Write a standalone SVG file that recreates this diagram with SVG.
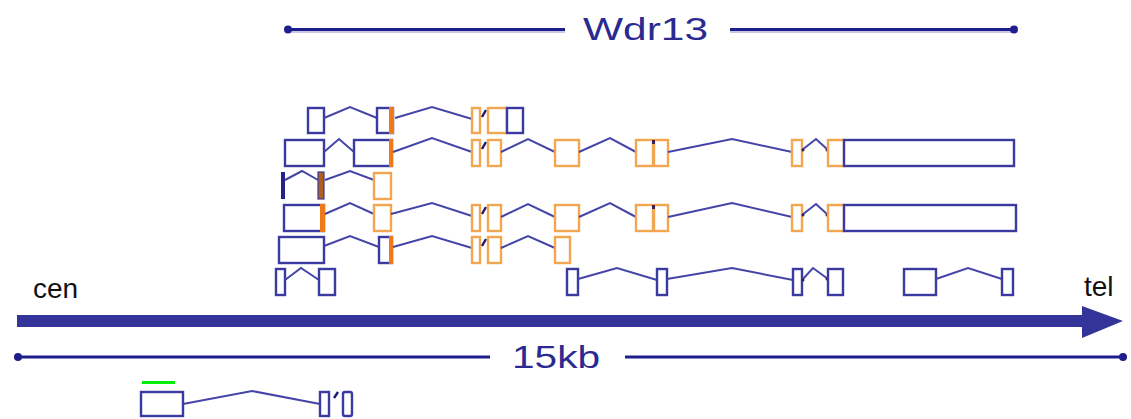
<svg xmlns="http://www.w3.org/2000/svg" width="1131" height="419" viewBox="0 0 1131 419">
<style>
.b{fill:#fff;stroke:#3a3aa0;stroke-width:2.4}
.o{fill:#fff;stroke:#f2a650;stroke-width:2.4}
.os{fill:#f07a1a;stroke:none}
.i{fill:none;stroke:#4545a8;stroke-width:2}
.sl{stroke:#1a1a70;stroke-width:2.4}
.dt{fill:#3a2050}
.lbl{font-family:"Liberation Sans",Arial,sans-serif;fill:#2a2a90}
.side{font-family:"Liberation Sans",Arial,sans-serif;fill:#111;font-size:28px}
.rule{stroke:#1e1e8c;stroke-width:3}
.sh{stroke:#c8c8e4;stroke-width:2}
</style>
<rect width="1131" height="419" fill="#fff"/>

<g id="wdr13-scale">
<line class="sh" x1="287" y1="32" x2="565" y2="32"/>
<line class="sh" x1="730" y1="32" x2="1015" y2="32"/>
<line class="rule" x1="287" y1="29.5" x2="565" y2="29.5"/>
<line class="rule" x1="730" y1="29.5" x2="1015" y2="29.5"/>
<circle cx="288" cy="29.5" r="4" fill="#1e1e8c"/>
<circle cx="1014" cy="29.5" r="4" fill="#1e1e8c"/>
<text class="lbl" x="583" y="40" font-size="32" textLength="125" lengthAdjust="spacingAndGlyphs">Wdr13</text>
</g>

<g id="transcript-1">
<rect class="b" x="308" y="108" width="16" height="25"/>
<polyline class="i" points="324,118 350,107 377,118"/>
<rect class="b" x="377" y="108" width="16" height="25"/>
<rect class="os" x="389" y="107" width="5" height="27"/>
<polyline class="i" points="395,118 432,107 472,119"/>
<rect class="o" x="472" y="108" width="8" height="25"/>
<line class="sl" x1="482" y1="117" x2="486" y2="110"/>
<rect class="o" x="488" y="108" width="19" height="25"/>
<rect class="b" x="507" y="108" width="16" height="25"/>
</g>

<g id="transcript-2">
<rect class="b" x="285" y="140" width="39" height="26"/>
<polyline class="i" points="324,152 339,139 354,152"/>
<rect class="b" x="354" y="140" width="38" height="26"/>
<rect class="os" x="389" y="139" width="4" height="28"/>
<polyline class="i" points="393,152 432,138 472,152"/>
<rect class="o" x="472" y="140" width="8" height="26"/>
<line class="sl" x1="482" y1="149" x2="486" y2="142"/>
<rect class="o" x="488" y="140" width="13" height="26"/>
<polyline class="i" points="501,152 528,139 555,152"/>
<rect class="o" x="555" y="140" width="24" height="26"/>
<polyline class="i" points="579,152 610,138 636,152"/>
<rect class="o" x="636" y="140" width="17" height="26"/>
<rect class="o" x="654" y="140" width="14" height="26"/>
<rect class="dt" x="652" y="140" width="3" height="4"/>
<polyline class="i" points="668,152 732,139 792,152"/>
<rect class="o" x="792" y="140" width="10" height="26"/>
<polyline class="i" points="802,150 816,139 828,150"/>
<circle class="dt" cx="803" cy="150" r="1.5"/>
<circle class="dt" cx="827" cy="150" r="1.5"/>
<rect class="o" x="828" y="140" width="16" height="26"/>
<rect class="b" x="844" y="140" width="170" height="26"/>
</g>

<g id="transcript-3">
<rect x="281" y="172" width="4" height="27" fill="#22228a"/>
<polyline class="i" points="285,180 302,171 318,180"/>
<rect x="318" y="172" width="6" height="27" fill="#b0601e" stroke="#3a3aa0" stroke-width="1.2"/>
<polyline class="i" points="325,180 350,171 374,180"/>
<rect class="o" x="374" y="173" width="17" height="26"/>
</g>

<g id="transcript-4">
<rect class="b" x="284" y="205" width="40" height="26"/>
<rect class="os" x="320" y="204" width="5" height="28"/>
<polyline class="i" points="325,214 350,203 374,214"/>
<rect class="o" x="374" y="205" width="17" height="26"/>
<polyline class="i" points="391,214 432,203 472,216"/>
<rect class="o" x="472" y="205" width="8" height="26"/>
<line class="sl" x1="482" y1="214" x2="486" y2="207"/>
<rect class="o" x="488" y="205" width="13" height="26"/>
<polyline class="i" points="501,217 528,204 555,217"/>
<rect class="o" x="555" y="205" width="24" height="26"/>
<polyline class="i" points="579,217 610,203 636,217"/>
<rect class="o" x="636" y="205" width="17" height="26"/>
<rect class="o" x="654" y="205" width="14" height="26"/>
<rect class="dt" x="652" y="205" width="3" height="4"/>
<polyline class="i" points="668,217 732,203 792,217"/>
<rect class="o" x="792" y="205" width="10" height="26"/>
<polyline class="i" points="802,215 816,204 828,215"/>
<circle class="dt" cx="803" cy="215" r="1.5"/>
<circle class="dt" cx="827" cy="215" r="1.5"/>
<rect class="o" x="828" y="205" width="16" height="26"/>
<rect class="b" x="844" y="205" width="172" height="26"/>
</g>

<g id="transcript-5">
<rect class="b" x="279" y="237" width="45" height="26"/>
<polyline class="i" points="324,246 350,236 379,247"/>
<rect class="b" x="379" y="237" width="13" height="26"/>
<rect class="os" x="389" y="236" width="4" height="28"/>
<polyline class="i" points="393,247 432,236 472,248"/>
<rect class="o" x="472" y="237" width="8" height="26"/>
<line class="sl" x1="482" y1="246" x2="486" y2="239"/>
<rect class="o" x="488" y="237" width="13" height="26"/>
<polyline class="i" points="501,248 528,236 555,248"/>
<rect class="o" x="555" y="237" width="15" height="26"/>
</g>

<g id="transcript-6">
<rect class="b" x="276" y="269" width="9" height="26"/>
<polyline class="i" points="285,280 301,268 319,280"/>
<rect class="b" x="319" y="269" width="16" height="26"/>
<rect class="b" x="567" y="269" width="11" height="26"/>
<polyline class="i" points="578,279 617,268 657,280"/>
<rect class="b" x="657" y="269" width="10" height="26"/>
<polyline class="i" points="667,279 732,268 793,280"/>
<rect class="b" x="793" y="269" width="9" height="26"/>
<polyline class="i" points="802,280 813,268 828,279"/>
<circle class="dt" cx="803" cy="280" r="1.5"/>
<circle class="dt" cx="827" cy="279" r="1.5"/>
<rect class="b" x="828" y="269" width="15" height="26"/>
<rect class="b" x="904" y="269" width="32" height="26"/>
<polyline class="i" points="936,279 968,268 1002,279"/>
<rect class="b" x="1002" y="269" width="11" height="26"/>
</g>

<g id="chromosome-axis">
<text class="side" x="33" y="298">cen</text>
<text class="side" x="1084" y="296" font-size="30">tel</text>
<rect x="17" y="315" width="1067" height="12" fill="#333399"/>
<polygon points="1082,306 1123,321 1082,338" fill="#333399"/>
</g>

<g id="scale-15kb">
<line class="rule" x1="16" y1="357" x2="490" y2="357"/>
<line class="rule" x1="625" y1="357" x2="1124" y2="357"/>
<circle cx="18" cy="357" r="4" fill="#1e1e8c"/>
<circle cx="1123" cy="357" r="4" fill="#1e1e8c"/>
<text class="lbl" x="512" y="368" font-size="32" textLength="88" lengthAdjust="spacingAndGlyphs">15kb</text>
</g>

<g id="lower-gene">
<rect x="142" y="381" width="33" height="3" fill="#00ee00"/>
<rect class="b" x="141" y="392" width="42" height="24"/>
<polyline class="i" points="183,404 252,391 320,404"/>
<rect class="b" x="320" y="392" width="9" height="24"/>
<line class="sl" x1="334" y1="398" x2="338" y2="392"/>
<rect class="b" x="343" y="392" width="9" height="24" rx="2"/>
</g>
</svg>
